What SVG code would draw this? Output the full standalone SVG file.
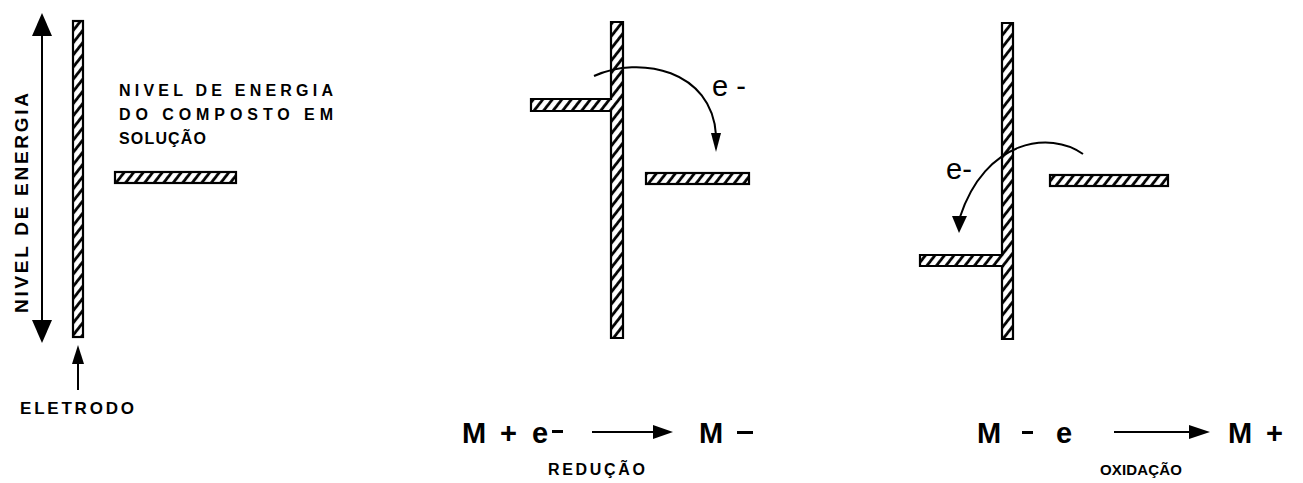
<svg xmlns="http://www.w3.org/2000/svg" width="1303" height="483" viewBox="0 0 1303 483">
<defs>
<pattern id="hatch" patternUnits="userSpaceOnUse" width="7.5" height="7.5" patternTransform="rotate(38)">
<rect width="7.5" height="7.5" fill="#fff"/>
<line x1="1.5" y1="0" x2="1.5" y2="7.5" stroke="#000" stroke-width="2.8"/>
</pattern>
<style>
.bar{fill:url(#hatch);stroke:#000;stroke-width:2.2;stroke-linejoin:miter}
.ln{fill:none;stroke:#000;stroke-width:2}
.hd{fill:#000;stroke:none}
.cap{font-family:"Liberation Sans",Arial,sans-serif;font-weight:bold;fill:#000}
.eq{font-family:"Liberation Sans",Arial,sans-serif;font-weight:bold;font-size:29px;fill:#000}
.el{font-family:"Liberation Sans",Arial,sans-serif;font-size:29px;fill:#000}
</style>
</defs>
<rect width="1303" height="483" fill="#fff"/>

<g id="panel1">
<g id="electrode1"><rect class="bar" x="73" y="21" width="10" height="316"/></g>
<g id="level1"><rect class="bar" x="115" y="172" width="121" height="11"/></g>
<text class="cap" font-size="19" transform="translate(28,313) rotate(-90)" textLength="220" lengthAdjust="spacing">NIVEL DE ENERGIA</text>
<text class="cap" font-size="16" x="119" y="96" textLength="214" lengthAdjust="spacing">NIVEL DE ENERGIA</text>
<text class="cap" font-size="16" x="119" y="120" textLength="214" lengthAdjust="spacing">DO COMPOSTO EM</text>
<text class="cap" font-size="16" x="119" y="144" textLength="87" lengthAdjust="spacing">SOLUÇÃO</text>
<text class="cap" font-size="17" x="20" y="414" textLength="114" lengthAdjust="spacing">ELETRODO</text>
</g>

<g id="panel2">
<g id="electrode2"><path class="bar" d="M611,22 H623 V338 H611 V111 H531 V99 H611 Z"/></g>
<g id="level2"><rect class="bar" x="646" y="173" width="103" height="11"/></g>
<text class="el" x="712" y="96">e -</text>
</g>

<g id="panel3">
<g id="electrode3"><path class="bar" d="M1002,23 H1013 V339 H1002 V266 H920 V255 H1002 Z"/></g>
<g id="level3"><rect class="bar" x="1050" y="175" width="118" height="11"/></g>
<text class="el" x="946" y="179">e-</text>
</g>

<g id="equations">
<text class="eq" x="462" y="443">M</text>
<text class="eq" x="500" y="443">+</text>
<text class="eq" x="532" y="443" font-weight="normal">e</text>
<rect x="552" y="430" width="11" height="3"/>
<text class="eq" x="699" y="443">M</text>
<rect x="737" y="431" width="16" height="3"/>
<text class="cap" font-size="16" x="548" y="475" textLength="97" lengthAdjust="spacing">REDUÇÃO</text>

<text class="eq" x="977" y="443">M</text>
<rect x="1022" y="431" width="11" height="3"/>
<text class="eq" x="1056" y="443" font-weight="normal">e</text>
<text class="eq" x="1228" y="443">M</text>
<text class="eq" x="1266" y="443">+</text>
<text class="cap" font-size="15" x="1100" y="475" textLength="82" lengthAdjust="spacing">OXIDAÇÃO</text>
</g>

<g id="connectors">
<line class="ln" x1="42" y1="34" x2="42" y2="322"/>
<polygon class="hd" points="42,13 32,36 52,36"/>
<polygon class="hd" points="42,343 32,320 52,320"/>
<line class="ln" x1="78" y1="362" x2="78" y2="390"/>
<polygon class="hd" points="78,345 72,364 84,364"/>
<path class="ln" d="M594,76 C640,55 712,70 716,135"/>
<polygon class="hd" points="716,152 711,133 721,133"/>
<path class="ln" d="M1083,154 C1050,130 985,140 960,217"/>
<polygon class="hd" points="959,233 952,216 967,216"/>
<line class="ln" x1="592" y1="432" x2="656" y2="432"/>
<polygon class="hd" points="673,432 653,425 653,439"/>
<line class="ln" x1="1114" y1="432" x2="1192" y2="432"/>
<polygon class="hd" points="1210,432 1189,425 1189,439"/>
</g>
</svg>
